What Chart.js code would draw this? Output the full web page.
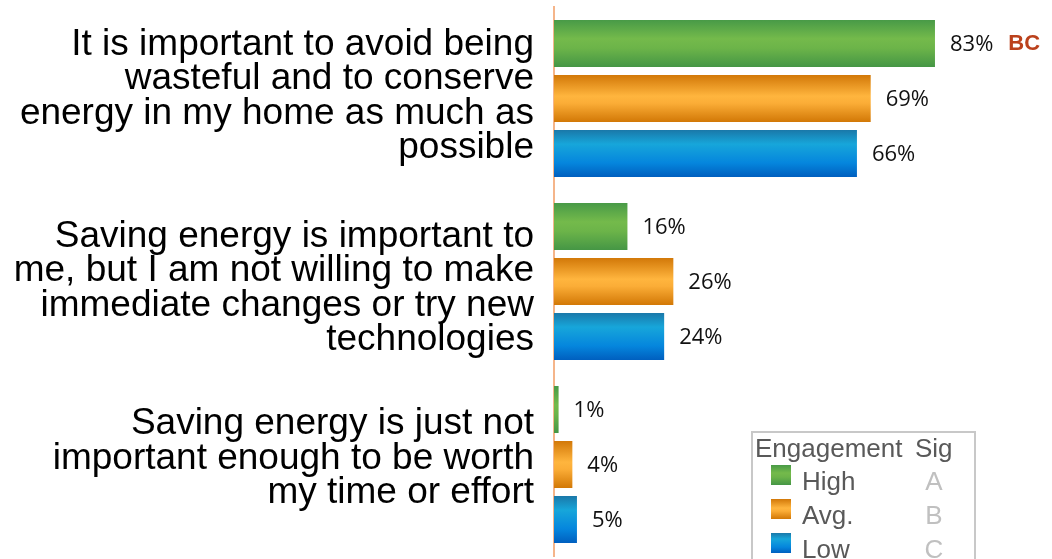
<!DOCTYPE html>
<html>
<head>
<meta charset="utf-8">
<title>Energy attitudes by engagement</title>
<script src="https://cdn.jsdelivr.net/npm/chart.js@4/dist/chart.umd.min.js"></script>
<style>
  html, body { margin: 0; padding: 0; background: #fff; }
  #wrap { width: 1052px; height: 559px; }
</style>
</head>
<body>
<div id="wrap"><canvas id="attitudes" width="1052" height="559"></canvas></div>
<script>
// statements, one per row group (already broken into lines)
var categories = [
    ['It is important to avoid being', 'wasteful and to conserve', 'energy in my home as much as', 'possible'],
    ['Saving energy is important to', 'me, but I am not willing to make', 'immediate changes or try new', 'technologies'],
    ['Saving energy is just not', 'important enough to be worth', 'my time or effort']
];

var seriesNames = ['High', 'Avg.', 'Low'];
var sigLetters = ['A', 'B', 'C'];

// percent agreeing, per engagement level
var highValues = [83, 16, 1];
var avgValues = [69, 26, 4];
var lowValues = [66, 24, 5];

// significance markers shown after a value label
var highSig = ['BC', '', ''];
var avgSig = ['', '', ''];
var lowSig = ['', '', ''];

// vertical shading for the bars: dark edge, light middle, dark edge
var shades = [
    [[0, '#489a47'], [0.4, '#74ba4b'], [0.6, '#6cb449'], [1, '#459645']],
    [[0, '#d27808'], [0.45, '#ffb53e'], [0.6, '#fbad37'], [1, '#d27806']],
    [[0, '#1a78a9'], [0.3, '#17a6da'], [0.7, '#0586dd'], [1, '#005fbf']]
];

// small vertical nudge (px) for each category's text block
var tickNudge = [-2, 7, -6];

var CAT_PCT = 0.9016;
var BAR_PCT = 0.855;

function barFill(k) {
    return function(ctx) {
        var stops = shades[k];
        var chart = ctx.chart;
        if (ctx.type !== 'data' || !chart.chartArea || !chart.scales.y) {
            return stops[1][1];
        }
        var yScale = chart.scales.y;
        var center = yScale.getPixelForValue(ctx.dataIndex);
        var band = yScale.height / categories.length;
        var group = band * CAT_PCT;
        var slot = group / seriesNames.length;
        var mid = center - group / 2 + slot * (ctx.datasetIndex + 0.5);
        var h = slot * BAR_PCT;
        var g = chart.ctx.createLinearGradient(0, mid - h / 2, 0, mid + h / 2);
        stops.forEach(function(s) { g.addColorStop(s[0], s[1]); });
        return g;
    };
}

// shift the y tick text blocks once per layout
var labelNudge = {
    id: 'labelNudge',
    beforeDraw: function(chart) {
        var scale = chart.scales.y;
        if (!scale || !scale.getLabelItems) return;
        var items = scale.getLabelItems();
        if (!items || items._nudged) return;
        items.forEach(function(it, i) {
            if (it.options && it.options.translation) {
                it.options.translation[1] += tickNudge[i] || 0;
            }
        });
        items._nudged = true;
    }
};

// value labels + sig letters to the right of each bar
var valueLabels = {
    id: 'valueLabels',
    afterDatasetsDraw: function(chart) {
        var c = chart.ctx;
        var sigs = [highSig, avgSig, lowSig];
        c.save();
        c.textBaseline = 'middle';
        c.textAlign = 'left';
        chart.data.datasets.forEach(function(ds, i) {
            var meta = chart.getDatasetMeta(i);
            meta.data.forEach(function(el, j) {
                var txt = ds.data[j] + '%';
                c.font = '22px "Open Sans"';
                c.fillStyle = '#111';
                var x = el.x + 15;
                c.fillText(txt, x, el.y + 1);
                var sig = sigs[i][j];
                if (sig) {
                    var w = c.measureText(txt).width;
                    c.font = 'bold 22px "Liberation Sans"';
                    c.fillStyle = '#bb411c';
                    c.fillText(sig, x + w + 15, el.y);
                }
            });
        });
        c.restore();
    }
};

// boxed legend with the sig letter column
var sigLegend = {
    id: 'sigLegend',
    afterDraw: function(chart) {
        var c = chart.ctx;
        c.save();
        c.strokeStyle = '#c8c8c8';
        c.lineWidth = 2;
        c.strokeRect(752, 432, 223, 140);

        c.textBaseline = 'alphabetic';
        c.font = '26px "Liberation Sans"';
        c.fillStyle = '#595959';
        c.fillText('Engagement', 755, 457);
        c.fillText('Sig', 915, 457);

        for (var i = 0; i < seriesNames.length; i++) {
            var top = 465 + i * 34;
            var g = c.createLinearGradient(0, top, 0, top + 20);
            shades[i].forEach(function(s) { g.addColorStop(s[0], s[1]); });
            c.fillStyle = g;
            c.fillRect(771, top, 20, 20);
            c.fillStyle = '#595959';
            c.textAlign = 'left';
            c.fillText(seriesNames[i], 802, top + 25);
            c.fillStyle = '#c0c0c0';
            c.textAlign = 'center';
            c.fillText(sigLetters[i], 934, top + 25);
        }
        c.restore();
    }
};

var ctx = document.getElementById('attitudes').getContext('2d');
new Chart(ctx, {
    type: 'bar',
    data: {
        labels: categories,
        datasets: [
            { label: seriesNames[0], data: highValues, backgroundColor: barFill(0) },
            { label: seriesNames[1], data: avgValues, backgroundColor: barFill(1) },
            { label: seriesNames[2], data: lowValues, backgroundColor: barFill(2) }
        ]
    },
    options: {
        indexAxis: 'y',
        responsive: false,
        animation: false,
        events: [],
        devicePixelRatio: 1,
        categoryPercentage: CAT_PCT,
        barPercentage: BAR_PCT,
        layout: { padding: { top: 7, bottom: 3, right: 39, left: 0 } },
        plugins: {
            legend: { display: false },
            tooltip: { enabled: false }
        },
        scales: {
            x: { display: false, min: 0, max: 100 },
            y: {
                grid: { display: false, drawTicks: false },
                border: { display: true, color: '#f5b58a', width: 2 },
                ticks: {
                    color: '#000',
                    padding: 20,
                    autoSkip: false,
                    font: { family: '"Liberation Sans", Arial, sans-serif', size: 37, lineHeight: 0.93 }
                },
                afterFit: function(scale) {
                    scale.width = 554;
                    // labels may hang past the plot edges; keep the plot full height
                    scale.paddingTop = 0;
                    scale.paddingBottom = 0;
                }
            }
        }
    },
    plugins: [labelNudge, valueLabels, sigLegend]
});
</script>
</body>
</html>
